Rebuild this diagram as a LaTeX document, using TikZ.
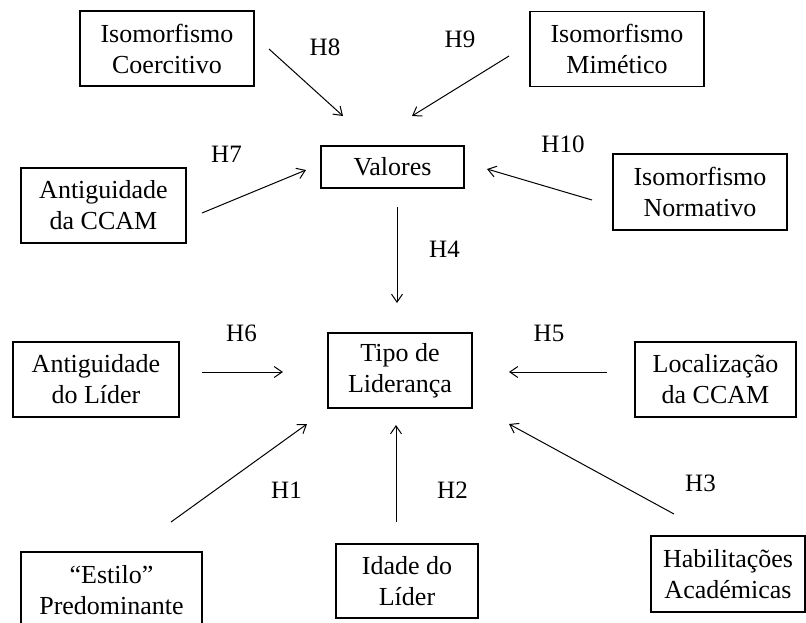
\documentclass[tikz,border=0pt]{standalone}
\usepackage{fontspec}
\setmainfont{Liberation Serif}
\usetikzlibrary{arrows.meta}

\begin{document}
\begin{tikzpicture}[x=1pt, y=-1pt,
    caixa/.style={draw, line width=1.6pt, align=center, inner sep=0pt,
        minimum height=75pt, font=\fontsize{26}{31}\selectfont},
    hip/.style={inner sep=0pt, font=\fontsize{25}{30}\selectfont},
    seta/.style={line width=1pt, -{Straight Barb[length=8pt,width=11pt]}}]
    \useasboundingbox (0,0) rectangle (806,622);
    % caixas
    \node[caixa, minimum width=174pt] (coerc) at (167,48.5) {Isomorfismo\\Coercitivo};
    \node[caixa, minimum width=174pt] (mimet) at (617,49) {Isomorfismo\\Mimético};
    \node[caixa, minimum width=143pt, minimum height=42pt] (valores) at (392.5,167) {Valores};
    \node[caixa, minimum width=165pt] (antccam) at (103.5,205.5) {Antiguidade\\da CCAM};
    \node[caixa, minimum width=174pt, minimum height=76pt] (normat) at (700,192) {Isomorfismo\\Normativo};
    \node[caixa, minimum width=144pt] (tipo) at (400,370.5) {Tipo de\\Liderança};
    \node[caixa, minimum width=166pt] (antlider) at (96,379.5) {Antiguidade\\do Líder};
    \node[caixa, minimum width=161pt] (local) at (715.5,379.5) {Localização\\da CCAM};
    \node[caixa, minimum width=181pt, minimum height=76pt] (estilo) at (111.5,590) {``Estilo''\\Predominante};
    \node[caixa, minimum width=142pt, minimum height=74pt] (idade) at (407,581) {Idade do\\Líder};
    \node[caixa, minimum width=154pt, minimum height=76pt] (habil) at (728,574) {Habilitações\\Académicas};
    % pontas das setas
    \coordinate (h8a) at (269,49);  \coordinate (h8b) at (343,116);
    \coordinate (h9a) at (509,56);  \coordinate (h9b) at (412,116);
    \coordinate (h7a) at (202,213); \coordinate (h7b) at (306,170);
    \coordinate (h10a) at (592,200); \coordinate (h10b) at (487,169);
    \coordinate (h4a) at (397,207); \coordinate (h4b) at (397,303);
    \coordinate (h6a) at (202,372); \coordinate (h6b) at (283,372);
    \coordinate (h5a) at (607,372); \coordinate (h5b) at (509,372);
    \coordinate (h1a) at (171,522); \coordinate (h1b) at (307,424);
    \coordinate (h2a) at (396,522); \coordinate (h2b) at (396,425);
    \coordinate (h3a) at (674,514); \coordinate (h3b) at (509,424);
    \draw[seta] (h8a) -- (h8b);
    \draw[seta] (h9a) -- (h9b);
    \draw[seta] (h7a) -- (h7b);
    \draw[seta] (h10a) -- (h10b);
    \draw[seta] (h4a) -- (h4b);
    \draw[seta] (h6a) -- (h6b);
    \draw[seta] (h5a) -- (h5b);
    \draw[seta] (h1a) -- (h1b);
    \draw[seta] (h2a) -- (h2b);
    \draw[seta] (h3a) -- (h3b);
    % hipoteses
    \node[hip] (H8) at (325,47.5) {H8};
    \node[hip] (H9) at (460,39.5) {H9};
    \node[hip] (H7) at (226.5,154.5) {H7};
    \node[hip] (H10) at (563,144.5) {H10};
    \node[hip] (H4) at (444.5,249.5) {H4};
    \node[hip] (H6) at (241.5,333.5) {H6};
    \node[hip] (H5) at (549,333.5) {H5};
    \node[hip] (H1) at (286.5,490) {H1};
    \node[hip] (H2) at (452.5,490) {H2};
    \node[hip] (H3) at (700.5,483.5) {H3};
\end{tikzpicture}
\end{document}
